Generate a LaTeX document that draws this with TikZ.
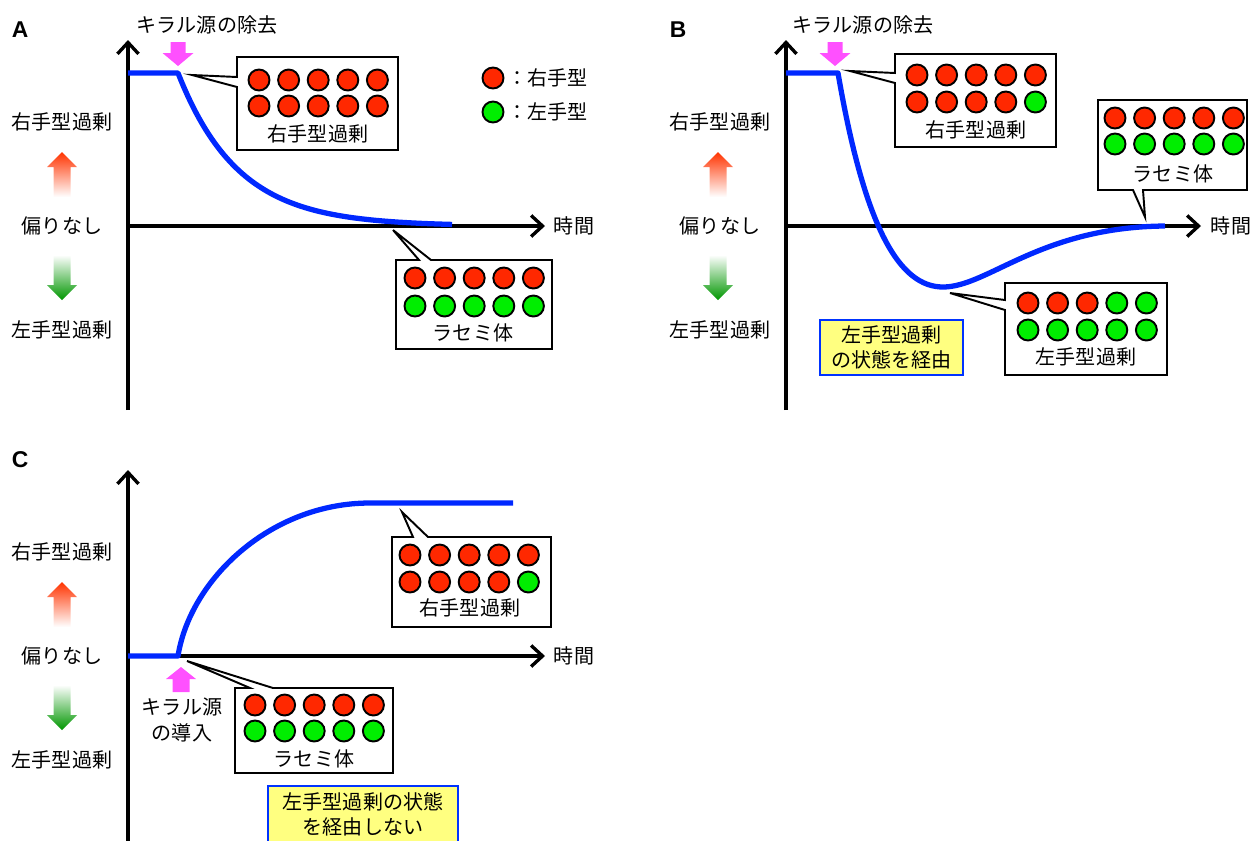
\documentclass[tikz,border=0pt]{standalone}
\usepackage{fontspec}
\setmainfont{Noto Sans CJK JP}
\newfontfamily\labfont{Liberation Sans}
\usetikzlibrary{arrows.meta}
\definecolor{curveblue}{RGB}{0,40,255}
\definecolor{dotred}{RGB}{255,40,0}
\definecolor{dotgreen}{RGB}{0,238,0}
\definecolor{pinkarrow}{RGB}{255,80,255}
\definecolor{notefill}{RGB}{255,255,128}
\definecolor{noteborder}{RGB}{0,51,255}
\definecolor{upred}{RGB}{255,51,0}
\definecolor{downgreen}{RGB}{0,150,0}
\newcommand{\dotrow}[4]{\foreach \s [count=\i] in {#4} {\node[\s] (#1-\i) at ({#2+(\i-1)*29.6},#3) {};}}
\newcommand{\pinkdown}[1]{\fill[pinkfill] ({#1-7.5},42) -- ({#1+7.5},42) -- ({#1+7.5},53) -- ({#1+15.5},53) -- (#1,66) -- ({#1-15.5},53) -- ({#1-7.5},53) -- cycle;}
\newcommand{\redup}[2]{\shade[top color=upred, bottom color=white] ({#1-8.5},{#2+45}) -- ({#1-8.5},{#2+15}) -- ({#1-15},{#2+15}) -- (#1,#2) -- ({#1+15},{#2+15}) -- ({#1+8.5},{#2+15}) -- ({#1+8.5},{#2+45}) -- cycle;}
\newcommand{\greendown}[2]{\shade[top color=white, bottom color=downgreen] ({#1-8.5},{#2-45}) -- ({#1-8.5},{#2-15}) -- ({#1-15},{#2-15}) -- (#1,#2) -- ({#1+15},{#2-15}) -- ({#1+8.5},{#2-15}) -- ({#1+8.5},{#2-45}) -- cycle;}
\begin{document}
\begin{tikzpicture}[x=0.02cm,y=-0.02cm,
  txt/.style={font=\fontsize{11.4pt}{14.6pt}\selectfont, inner sep=0pt, align=center},
  axis/.style={line width=1.9pt, -{Straight Barb[length=6.5pt,width=12pt]}},
  curve/.style={line width=3pt, curveblue, line join=round},
  bubble/.style={draw=black, fill=white, line width=1.1pt, line join=miter},
  dot/.style={circle, draw=black, line width=1.1pt, minimum size=0.42cm, inner sep=0pt},
  rd/.style={dot, fill=dotred},
  gd/.style={dot, fill=dotgreen},
  note/.style={draw=noteborder, fill=notefill, line width=1.2pt},
  pinkfill/.style={fill=pinkarrow},
  panel/.style={font=\labfont\bfseries\fontsize{13pt}{15pt}\selectfont, inner sep=0pt},
]
\useasboundingbox (0,0) rectangle (1252,840);

% ================= Panel A =================
\node[panel] (labA) at (20,30) {A};
\node[txt] (remA) at (207,25) {キラル源の除去};
\pinkdown{178}
\node[txt] (rA) at (62,122) {右手型過剰};
\node[txt] (nA) at (62,226) {偏りなし};
\node[txt] (lA) at (62,330) {左手型過剰};
\redup{62}{152}
\greendown{62}{300}
\coordinate (oA) at (128,226);
\coordinate (ytopA) at (128,40);
\coordinate (ybotA) at (128,410);
\coordinate (xendA) at (545,226);
\draw[axis] (ybotA) -- (ytopA);
\draw[axis] (oA) -- (xendA);
\node[txt] (tA) at (574,226) {時間};
\draw[curve] (128,73) -- (178,73) -- plot[domain=178:452,samples=90] (\x,{226-153*exp(-(\x-178)/60)});
% callout A1
\coordinate (tipA1) at (192,75);
\draw[bubble] (237,57) -- (398,57) -- (398,150) -- (237,150) -- (237,87) -- (tipA1) -- (237,77) -- cycle;
\dotrow{a1t}{259}{80}{rd,rd,rd,rd,rd}
\dotrow{a1b}{259}{106}{rd,rd,rd,rd,rd}
\node[txt] (a1txt) at (318,134) {右手型過剰};
% callout A2
\coordinate (tipA2) at (393,230);
\draw[bubble] (396,260) -- (419,260) -- (tipA2) -- (431,260) -- (552,260) -- (552,349) -- (396,349) -- cycle;
\dotrow{a2t}{415}{278}{rd,rd,rd,rd,rd}
\dotrow{a2b}{415}{306}{gd,gd,gd,gd,gd}
\node[txt] (a2txt) at (473,333) {ラセミ体};
% legend
\node[rd] (legR) at (493,78) {};
\node[txt, anchor=west] (legRt) at (507,78) {：右手型};
\node[gd] (legG) at (493,112) {};
\node[txt, anchor=west] (legGt) at (507,112) {：左手型};

% ================= Panel B =================
\node[panel] (labB) at (678,30) {B};
\node[txt] (remB) at (863,25) {キラル源の除去};
\pinkdown{835}
\node[txt] (rB) at (720,122) {右手型過剰};
\node[txt] (nB) at (720,226) {偏りなし};
\node[txt] (lB) at (720,330) {左手型過剰};
\redup{718}{152}
\greendown{718}{300}
\coordinate (oB) at (786,226);
\coordinate (ytopB) at (786,40);
\coordinate (ybotB) at (786,410);
\coordinate (xendB) at (1201,226);
\draw[axis] (ybotB) -- (ytopB);
\draw[axis] (oB) -- (xendB);
\node[txt] (tB) at (1231,226) {時間};
\draw[curve] (786,73) -- (838,73) .. controls (865,230) and (900,287) .. (943,287) .. controls (988,287) and (1040,227) .. (1165,226);
% callout B1
\coordinate (tipB1) at (850,71);
\draw[bubble] (895,54) -- (1056,54) -- (1056,147) -- (895,147) -- (895,83) -- (tipB1) -- (895,73) -- cycle;
\dotrow{b1t}{917}{75}{rd,rd,rd,rd,rd}
\dotrow{b1b}{917}{102}{rd,rd,rd,rd,gd}
\node[txt] (b1txt) at (976,130) {右手型過剰};
% callout B2
\coordinate (tipB2) at (1145,217);
\draw[bubble] (1098,100) -- (1247,100) -- (1247,190) -- (1143,190) -- (tipB2) -- (1133,190) -- (1098,190) -- cycle;
\dotrow{b2t}{1115}{118}{rd,rd,rd,rd,rd}
\dotrow{b2b}{1115}{144}{gd,gd,gd,gd,gd}
\node[txt] (b2txt) at (1173,174) {ラセミ体};
% callout B3
\coordinate (tipB3) at (950,293);
\draw[bubble] (1005,283) -- (1167,283) -- (1167,375) -- (1005,375) -- (1005,310) -- (tipB3) -- (1005,300) -- cycle;
\dotrow{b3t}{1028}{303}{rd,rd,rd,gd,gd}
\dotrow{b3b}{1028}{330}{gd,gd,gd,gd,gd}
\node[txt] (b3txt) at (1086,357) {左手型過剰};
% note B
\draw[note] (820,320) rectangle (963,375);
\node[txt] (noteB) at (891.5,347.5) {左手型過剰\\の状態を経由};

% ================= Panel C =================
\node[panel] (labC) at (20,460) {C};
\node[txt] (rC) at (62,552) {右手型過剰};
\node[txt] (nC) at (62,656) {偏りなし};
\node[txt] (lC) at (62,760) {左手型過剰};
\redup{62}{582}
\greendown{62}{730}
\coordinate (oC) at (128,656);
\coordinate (ytopC) at (128,470);
\coordinate (ybotC) at (128,845);
\coordinate (xendC) at (545,656);
\draw[axis] (ybotC) -- (ytopC);
\draw[axis] (oC) -- (xendC);
\node[txt] (tC) at (574,656) {時間};
\fill[pinkfill] (172.5,692) -- (189.5,692) -- (189.5,679) -- (196,679) -- (181,667) -- (166,679) -- (172.5,679) -- cycle;
\node[txt] (introC) at (182,720) {キラル源\\の導入};
\draw[curve] (128,656) -- (178,656) .. controls (190,580) and (270,503) .. (370,503) -- (513,503);
% callout C1
\coordinate (tipC1) at (402,512);
\draw[bubble] (392,537) -- (413,537) -- (tipC1) -- (428,537) -- (551,537) -- (551,627) -- (392,627) -- cycle;
\dotrow{c1t}{410}{555}{rd,rd,rd,rd,rd}
\dotrow{c1b}{410}{582}{rd,rd,rd,rd,gd}
\node[txt] (c1txt) at (470,608) {右手型過剰};
% callout C2
\coordinate (tipC2) at (187,661);
\draw[bubble] (235,688) -- (250,688) -- (tipC2) -- (273,688) -- (393,688) -- (393,773) -- (235,773) -- cycle;
\dotrow{c2t}{255}{705}{rd,rd,rd,rd,rd}
\dotrow{c2b}{255}{731}{gd,gd,gd,gd,gd}
\node[txt] (c2txt) at (314,759) {ラセミ体};
% note C
\draw[note] (268,786) rectangle (458,850);
\node[txt] (noteC) at (363,814.5) {左手型過剰の状態\\を経由しない};
\end{tikzpicture}
\end{document}
